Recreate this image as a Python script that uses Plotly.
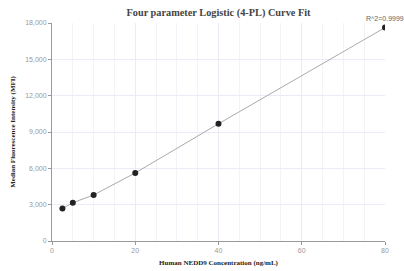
import plotly.graph_objects as go

concentration = [2.5, 5, 10, 20, 40, 80]
mfi = [2680, 3160, 3800, 5620, 9680, 17620]
x_ticks = [0, 20, 40, 60, 80]
y_ticks = [0, 3000, 6000, 9000, 12000, 15000, 18000]
y_tick_labels = ["0", "3,000", "6,000", "9,000", "12,000", "15,000", "18,000"]

fig = go.Figure()
fig.add_trace(go.Scatter(
    x=concentration, y=mfi, mode="lines",
    line=dict(color="#aaaaaa", width=1), hoverinfo="skip", showlegend=False))
fig.add_trace(go.Scatter(
    x=concentration, y=mfi, mode="markers",
    marker=dict(color="#222222", size=6), showlegend=False))

fig.add_annotation(x=80, y=mfi[-1], text="R^2=0.9999", showarrow=False,
                   yshift=9, xanchor="center",
                   font=dict(family="Arial, Liberation Sans", size=7, color="#666666"))

fig.update_layout(
    width=404, height=271,
    margin=dict(l=52, r=19, t=23, b=30, autoexpand=False),
    paper_bgcolor="white", plot_bgcolor="white",
    title=dict(text="<b>Four parameter Logistic (4-PL) Curve Fit</b>",
               xref="paper", x=0.5, xanchor="center", y=0.953, yanchor="middle",
               font=dict(family="Liberation Serif, Times New Roman", size=10.3, color="#444444")),
    xaxis=dict(range=[0, 80], tickvals=x_ticks, ticks="outside", ticklen=3,
               tickcolor="#999999", showline=True, linecolor="#999999", linewidth=1,
               showgrid=True, gridcolor="#ebebf5", gridwidth=1,
               minor=dict(dtick=5, showgrid=True, gridcolor="#f2f2f8", gridwidth=1),
               zeroline=False, automargin=False,
               tickfont=dict(family="Arial, Liberation Sans", size=7, color="#999999"),
               title=dict(text="<b>Human NEDD9 Concentration (ng/mL)</b>", standoff=6,
                          font=dict(family="Liberation Serif, Times New Roman", size=7, color="#222222"))),
    yaxis=dict(range=[0, 18000], tickvals=y_ticks, ticktext=y_tick_labels,
               ticks="outside", ticklen=3, tickcolor="#999999",
               showline=True, linecolor="#999999", linewidth=1,
               showgrid=True, gridcolor="#ebebf5", gridwidth=1, zeroline=False,
               automargin=False,
               tickfont=dict(family="Arial, Liberation Sans", size=7, color="#999999"),
               title=dict(text="<b>Median Fluorescence Intensity (MFI)</b>", standoff=8,
                          font=dict(family="Liberation Serif, Times New Roman", size=7, color="#222222"))),
)

fig.write_html("out.html", config={"displayModeBar": False},
               post_script="document.body.style.margin='0';document.body.style.padding='0';")
